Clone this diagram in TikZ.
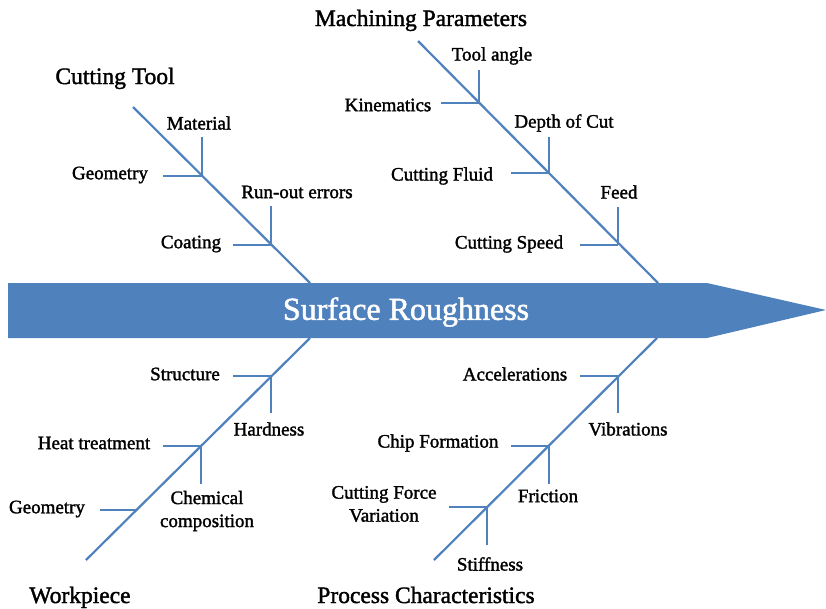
\documentclass[tikz,border=0pt]{standalone}
\usepackage{fontspec}
\setmainfont{Liberation Serif}
\newfontfamily\semibold{Liberation Serif}[FakeBold=1.6]
\usepackage{xcolor}
\usetikzlibrary{shapes, arrows, positioning}
\definecolor{boneblue}{RGB}{79,129,189}

\begin{document}
\begin{tikzpicture}[x=1pt, y=-1pt,
    bone/.style={draw=boneblue, line width=2.2pt},
    lbl/.style={font=\semibold\fontsize{19}{23}\selectfont, align=center, inner sep=0pt},
    cat/.style={font=\semibold\fontsize{23.5}{26}\selectfont, inner sep=0pt, anchor=base}]
    \useasboundingbox (0,0) rectangle (826,608);

    % Head arrow
    \fill[boneblue] (8,283) -- (707,283) -- (826,310) -- (707,338) -- (8,338) -- cycle;
    \node[text=white, font=\semibold\fontsize{32}{36}\selectfont] (effect) at (406,312) {Surface Roughness};

    % Spines
    \coordinate (ct0) at (133,107);  \coordinate (ct9) at (310,283);
    \coordinate (mp0) at (418,41);   \coordinate (mp9) at (658,283);
    \coordinate (wp0) at (86,560);   \coordinate (wp9) at (310,338);
    \coordinate (pc0) at (434,560);  \coordinate (pc9) at (657,338);
    \foreach \i/\j in {ct0/ct9, mp0/mp9, wp0/wp9, pc0/pc9}
        \draw[bone] (\i) -- (\j);

    % Junctions on the spines
    \coordinate (ct1) at (202,176);  \coordinate (ct2) at (271,245);
    \coordinate (mp1) at (479,103);  \coordinate (mp2) at (549,173);  \coordinate (mp3) at (618,245);
    \coordinate (wp1) at (271,376);  \coordinate (wp2) at (201,446);  \coordinate (wp3) at (137,510);
    \coordinate (pc1) at (618,376);  \coordinate (pc2) at (549,446);  \coordinate (pc3) at (487,507);

    % Rib ends
    \coordinate (ct1v) at (202,137); \coordinate (ct1h) at (163,176);
    \coordinate (ct2v) at (271,206); \coordinate (ct2h) at (233,245);
    \coordinate (mp1v) at (479,70);  \coordinate (mp1h) at (441,103);
    \coordinate (mp2v) at (549,137); \coordinate (mp2h) at (511,173);
    \coordinate (mp3v) at (618,207); \coordinate (mp3h) at (580,245);
    \coordinate (wp1h) at (233,376); \coordinate (wp1v) at (271,413);
    \coordinate (wp2h) at (163,446); \coordinate (wp2v) at (201,484);
    \coordinate (wp3h) at (100,510);
    \coordinate (pc1h) at (580,376); \coordinate (pc1v) at (618,413);
    \coordinate (pc2h) at (511,446); \coordinate (pc2v) at (549,484);
    \coordinate (pc3h) at (449,507); \coordinate (pc3v) at (487,545);

    % Ribs
    \foreach \i/\j in {ct1/ct1v, ct1/ct1h, ct2/ct2v, ct2/ct2h,
                       mp1/mp1v, mp1/mp1h, mp2/mp2v, mp2/mp2h, mp3/mp3v, mp3/mp3h,
                       wp1/wp1h, wp1/wp1v, wp2/wp2h, wp2/wp2v, wp3/wp3h,
                       pc1/pc1h, pc1/pc1v, pc2/pc2h, pc2/pc2v, pc3/pc3h, pc3/pc3v}
        \draw[bone] (\i) -- (\j);

    % Cutting Tool
    \node[cat] (tool) at (115,84) {Cutting Tool};
    \node[lbl] (material) at (199,123) {Material};
    \node[lbl] (geomtool) at (110,175) {Geometry};
    \node[lbl] (runout) at (297,192) {Run-out errors};
    \node[lbl] (coating) at (191,244) {Coating};

    % Machining Parameters
    \node[cat] (machining) at (421,26) {Machining Parameters};
    \node[lbl] (toolangle) at (492,56) {Tool angle};
    \node[lbl] (kinematics) at (388,105) {Kinematics};
    \node[lbl] (depth) at (564,123) {Depth of Cut};
    \node[lbl] (fluid) at (442,176) {Cutting Fluid};
    \node[lbl] (feed) at (619,192) {Feed};
    \node[lbl] (speed) at (509,244) {Cutting Speed};

    % Workpiece
    \node[cat] (workpiece) at (80,603) {Workpiece};
    \node[lbl] (structure) at (185,374) {Structure};
    \node[lbl] (hardness) at (269,429) {Hardness};
    \node[lbl] (heat) at (94,443) {Heat treatment};
    \node[lbl] (chemical) at (207,511) {Chemical\\composition};
    \node[lbl] (geomwork) at (47,509) {Geometry};

    % Process Characteristics
    \node[cat] (process) at (426,603) {Process Characteristics};
    \node[lbl] (accel) at (515,374) {Accelerations};
    \node[lbl] (vibrations) at (628,429) {Vibrations};
    \node[lbl] (chip) at (438,443) {Chip Formation};
    \node[lbl] (friction) at (548,496) {Friction};
    \node[lbl] (force) at (384,504) {Cutting Force\\Variation};
    \node[lbl] (stiffness) at (490,564) {Stiffness};

\end{tikzpicture}
\end{document}
